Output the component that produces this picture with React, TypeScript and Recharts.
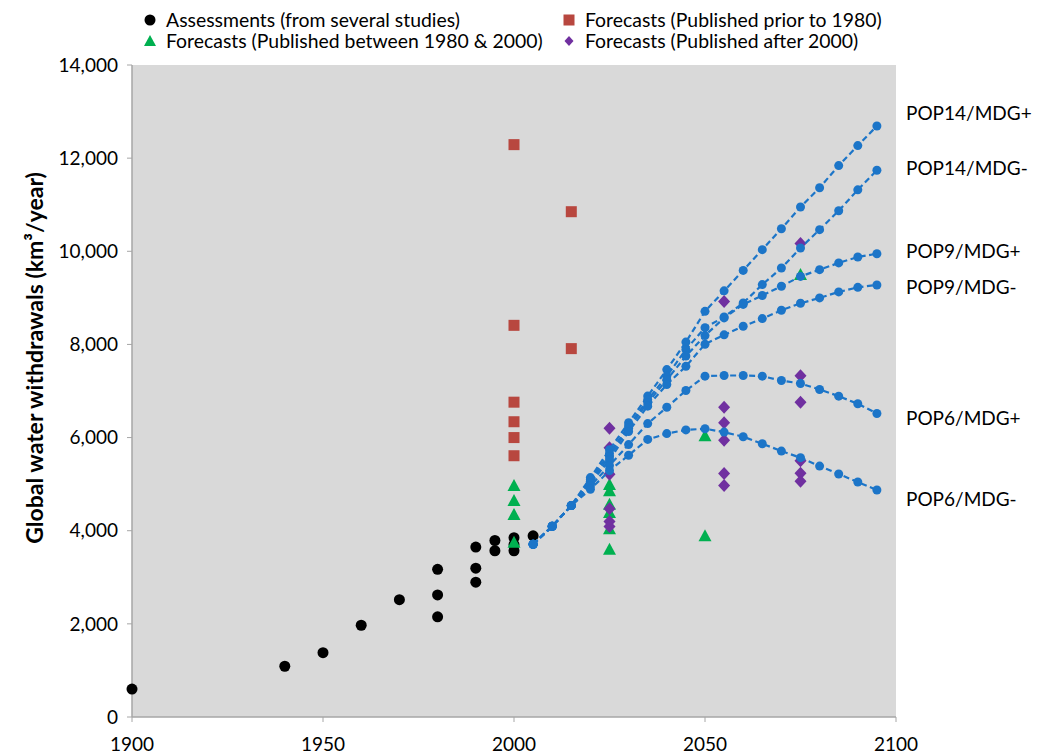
import React from 'react';
import { ScatterChart, Scatter, XAxis, YAxis, CartesianGrid, Legend, ReferenceDot } from 'recharts';

// ---------- data ----------
const assessYears = [1900, 1940, 1950, 1960, 1970, 1980, 1980, 1980, 1990, 1990, 1990, 1995, 1995, 2000, 2000, 2000, 2005];
const assessValues = [600, 1090, 1380, 1970, 2520, 3170, 2620, 2150, 3650, 3195, 2895, 3790, 3570, 3850, 3700, 3570, 3890];

const pre1980Years = [2000, 2000, 2000, 2000, 2000, 2000, 2015, 2015];
const pre1980Values = [12290, 8410, 6760, 6340, 6000, 5610, 10850, 7910];

const mid1980Years = [2000, 2000, 2000, 2000, 2025, 2025, 2025, 2025, 2025, 2025, 2050, 2050, 2075];
const mid1980Values = [4960, 4640, 4340, 3740, 4980, 4850, 4560, 4380, 4030, 3590, 6030, 3880, 9490];

const post2000Years = [2025, 2025, 2025, 2025, 2025, 2025, 2055, 2055, 2055, 2055, 2055, 2055, 2075, 2075, 2075, 2075, 2075, 2075];
const post2000Values = [6200, 5780, 5210, 4470, 4200, 4090, 8920, 6650, 6320, 5940, 5230, 4970, 10165, 7330, 6760, 5500, 5236, 5060];

const scenarioYears = [2005, 2010, 2015, 2020, 2025, 2030, 2035, 2040, 2045, 2050, 2055, 2060, 2065, 2070, 2075, 2080, 2085, 2090, 2095];
const pop14Plus = [3710, 4095, 4540, 5140, 5740, 6320, 6890, 7460, 8050, 8710, 9150, 9590, 10035, 10485, 10950, 11365, 11840, 12270, 12690];
const pop14Minus = [3710, 4095, 4540, 5100, 5660, 6250, 6810, 7320, 7890, 8360, 8590, 8890, 9285, 9640, 10070, 10465, 10870, 11320, 11740];
const pop9Plus = [3710, 4095, 4540, 5060, 5590, 6200, 6750, 7240, 7750, 8190, 8570, 8860, 9050, 9250, 9460, 9605, 9750, 9877, 9948];
const pop9Minus = [3710, 4095, 4540, 5020, 5520, 6130, 6675, 7140, 7530, 8005, 8206, 8390, 8555, 8733, 8883, 8999, 9127, 9226, 9277];
const pop6Plus = [3710, 4095, 4540, 4960, 5400, 5850, 6300, 6650, 7010, 7318, 7333, 7333, 7318, 7225, 7161, 7033, 6889, 6726, 6518];
const pop6Minus = [3710, 4095, 4540, 4890, 5290, 5620, 5960, 6085, 6165, 6190, 6117, 6018, 5868, 5710, 5568, 5388, 5217, 5045, 4874];

const scenarioNames = ['POP14/MDG+', 'POP14/MDG-', 'POP9/MDG+', 'POP9/MDG-', 'POP6/MDG+', 'POP6/MDG-'];
const scenarioSeries = [pop14Plus, pop14Minus, pop9Plus, pop9Minus, pop6Plus, pop6Minus];
const scenarioLabelValues = [12970, 11790, 10008, 9236, 6424, 4686];

const xTicks = [1900, 1950, 2000, 2050, 2100];
const yTicks = [0, 2000, 4000, 6000, 8000, 10000, 12000, 14000];

const legendLabels = [
  'Assessments (from several studies)',
  'Forecasts (Published prior to 1980)',
  'Forecasts (Published between 1980 & 2000)',
  'Forecasts (Published after 2000)',
];

// ---------- styles ----------
const FONT = 'Lato, "Noto Sans", sans-serif';
const BLACK = '#000000';
const RED = '#b8473f';
const GREEN = '#00b050';
const PURPLE = '#7030a0';
const BLUE = '#1c75c8';
const AXIS = '#a6a6a6';

const toPts = (xs: number[], ys: number[]) => xs.map((x, i) => ({ x, y: ys[i] }));

const CircleShape = (color: string, r: number) => (p: any) => (
  <circle cx={p.cx} cy={p.cy} r={r} fill={color} />
);
const SquareShape = (color: string) => (p: any) => (
  <rect x={p.cx - 5.5} y={p.cy - 5.5} width={11} height={11} fill={color} />
);
const TriangleShape = (color: string) => (p: any) => (
  <polygon
    points={`${p.cx},${p.cy - 7} ${p.cx + 6.5},${p.cy + 5} ${p.cx - 6.5},${p.cy + 5}`}
    fill={color}
  />
);
const DiamondShape = (color: string) => (p: any) => (
  <polygon
    points={`${p.cx},${p.cy - 6.5} ${p.cx + 6},${p.cy} ${p.cx},${p.cy + 6.5} ${p.cx - 6},${p.cy}`}
    fill={color}
  />
);

const legendMarkers = [
  <circle cx={7} cy={7} r={5.5} fill={BLACK} />,
  <rect x={1.5} y={1.5} width={11} height={11} fill={RED} />,
  <polygon points="7,1 13,12 1,12" fill={GREEN} />,
  <polygon points="7,2 11.5,7 7,12 2.5,7" fill={PURPLE} />,
];
const legendCols = [143, 562];

const LegendContent = () => (
  <div style={{ position: 'relative', width: 1041, height: 54, fontFamily: FONT, fontSize: 19.4, color: '#000' }}>
    {legendLabels.map((label, i) => {
      const col = i % 2;
      const row = Math.floor(i / 2);
      return (
        <div
          key={label}
          style={{
            position: 'absolute',
            left: legendCols[col],
            top: 9 + row * 21,
            height: 21,
            display: 'flex',
            alignItems: 'center',
            whiteSpace: 'nowrap',
            lineHeight: '21px',
          }}
        >
          <svg width={14} height={14} style={{ marginRight: 9 }}>
            {legendMarkers[i]}
          </svg>
          <span style={{ lineHeight: '21px', display: 'inline-block', height: 21 }}>{label}</span>
        </div>
      );
    })}
  </div>
);

const YLabel = (props: any) => {
  const vb = props.viewBox || { x: 0, y: 65, width: 132, height: 652 };
  const cx = vb.x + 43;
  const cy = vb.y + vb.height / 2 - 33;
  return (
    <text
      x={cx}
      y={cy}
      transform={`rotate(-90 ${cx} ${cy})`}
      textAnchor="middle"
      fontFamily={FONT}
      fontSize={23}
      fontWeight="bold"
      fill="#000"
    >
      Global water withdrawals (km³/year)
    </text>
  );
};

export default function App() {
  return (
    <div style={{ position: 'absolute', left: 0, top: 0, width: 1041, height: 754, background: '#fff' }}>
      <ScatterChart width={1041} height={754} margin={{ top: 65, right: 145, bottom: 0, left: 0 }}>
        <CartesianGrid fill="#d9d9d9" horizontal={false} vertical={false} stroke="none" />
        <XAxis
          type="number"
          dataKey="x"
          domain={[1900, 2100]}
          ticks={xTicks}
          height={37}
          axisLine={{ stroke: AXIS, strokeWidth: 1.5 }}
          tickLine={{ stroke: AXIS }}
          tickSize={5}
          tickMargin={16}
          tick={{ fontFamily: FONT, fontSize: 19, fill: '#000' }}
          interval={0}
        />
        <YAxis
          type="number"
          dataKey="y"
          domain={[0, 14000]}
          ticks={yTicks}
          width={132}
          axisLine={{ stroke: AXIS, strokeWidth: 1.5 }}
          tickLine={{ stroke: AXIS }}
          tickSize={5}
          tickMargin={9}
          tick={{ fontFamily: FONT, fontSize: 19, fill: '#000' }}
          tickFormatter={(v: number) => v.toLocaleString('en-US')}
          interval={0}
          label={<YLabel />}
        />
        <Legend
          layout="horizontal"
          verticalAlign="middle"
          align="center"
          content={<LegendContent />}
          wrapperStyle={{ left: 0, top: 0, width: 1041, height: 54 }}
        />
        <Scatter
          name={legendLabels[0]}
          data={toPts(assessYears, assessValues)}
          shape={CircleShape(BLACK, 5.5)}
          isAnimationActive={false}
        />
        <Scatter
          name={legendLabels[1]}
          data={toPts(pre1980Years, pre1980Values)}
          shape={SquareShape(RED)}
          isAnimationActive={false}
        />
        <Scatter
          name={legendLabels[2]}
          data={toPts(mid1980Years, mid1980Values)}
          shape={TriangleShape(GREEN)}
          isAnimationActive={false}
        />
        <Scatter
          name={legendLabels[3]}
          data={toPts(post2000Years, post2000Values)}
          shape={DiamondShape(PURPLE)}
          isAnimationActive={false}
        />
        {scenarioSeries.map((vals, i) => (
          <Scatter
            key={scenarioNames[i]}
            name={scenarioNames[i]}
            data={toPts(scenarioYears, vals)}
            line={{ stroke: BLUE, strokeWidth: 2.2, strokeDasharray: '6 3.5' }}
            lineType="joint"
            shape={CircleShape(BLUE, 4.5)}
            legendType="none"
            isAnimationActive={false}
          />
        ))}
        {scenarioNames.map((name, i) => (
          <ReferenceDot
            key={'lbl' + name}
            x={2100}
            y={scenarioLabelValues[i]}
            r={0}
            fill="none"
            stroke="none"
            ifOverflow="visible"
            label={{ value: name, position: 'right', offset: 10, fontFamily: FONT, fontSize: 19, fill: '#000' }}
          />
        ))}
      </ScatterChart>
    </div>
  );
}
